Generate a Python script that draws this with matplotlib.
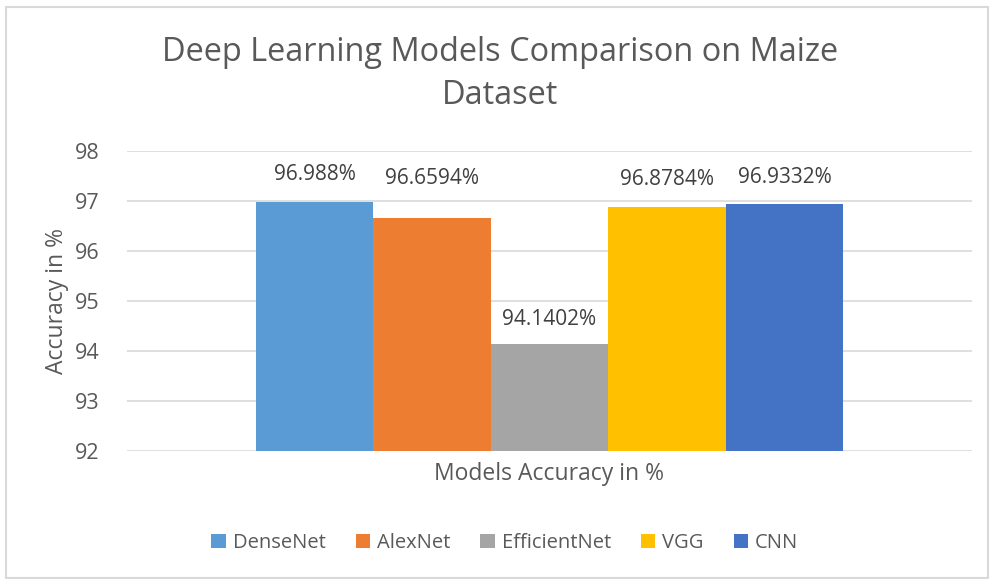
import matplotlib.pyplot as plt
from matplotlib.patches import Rectangle

models = ['DenseNet', 'AlexNet', 'EfficientNet', 'VGG', 'CNN']
accuracy = [96.988, 96.6594, 94.1402, 96.8784, 96.9332]
value_labels = ['96.988%', '96.6594%', '94.1402%', '96.8784%', '96.9332%']
colours = ['#5B9BD5', '#ED7D31', '#A5A5A5', '#FFC000', '#4472C4']
y_ticks = [92, 93, 94, 95, 96, 97, 98]

# label offsets above bars (points); AlexNet's label sits higher in the original
label_offsets = [12, 21, 10, 12, 12]

plt.rcParams['font.family'] = ['Open Sans', 'DejaVu Sans']
text_col = '#595959'

fig = plt.figure(figsize=(9.9, 5.79), dpi=100)
ax = fig.add_axes([127 / 990, 128 / 579, 845 / 990, 300 / 579])

width = 587.5 / 5 / 845
for i, (name, val, lab, col) in enumerate(zip(models, accuracy, value_labels, colours)):
    x = (i - 2) * width
    ax.bar(x, val - 92, bottom=92, width=width, color=col, label=name, zorder=3)
    ax.annotate(lab, (x, val), xytext=(0, label_offsets[i]), textcoords='offset points',
                ha='center', va='bottom', fontsize=15, color='#404040')

ax.set_xlim(-0.5, 0.5)
ax.set_ylim(92, 98)
ax.set_yticks(y_ticks)
ax.set_xticks([])
ax.tick_params(axis='y', length=0, pad=20, labelsize=15.5, labelcolor=text_col)
ax.grid(axis='y', color='#D9D9D9', linewidth=1.2, zorder=0)
for s in ax.spines.values():
    s.set_visible(False)

ax.set_ylabel('Accuracy in %', fontsize=16.5, color=text_col, labelpad=4)
ax.set_xlabel('Models Accuracy in %', fontsize=16.5, color=text_col, labelpad=8)

fig.text(0.505, 1 - 74 / 579, 'Deep Learning Models Comparison on Maize\nDataset',
         ha='center', va='center', fontsize=23.4, color=text_col, linespacing=1.4)

leg = fig.legend(loc='center', bbox_to_anchor=(0.51, 1 - 543 / 579), ncol=5,
                 frameon=False, fontsize=14.5, handlelength=0.7, handleheight=0.7,
                 handletextpad=0.35, columnspacing=1.5)
for t in leg.get_texts():
    t.set_color(text_col)

fig.patches.append(Rectangle((6 / 990, 1 / 579), 982 / 990, 571 / 579,
                             transform=fig.transFigure, fill=False,
                             edgecolor='#D9D9D9', linewidth=1.5))

fig.savefig('out.png', dpi=100)
